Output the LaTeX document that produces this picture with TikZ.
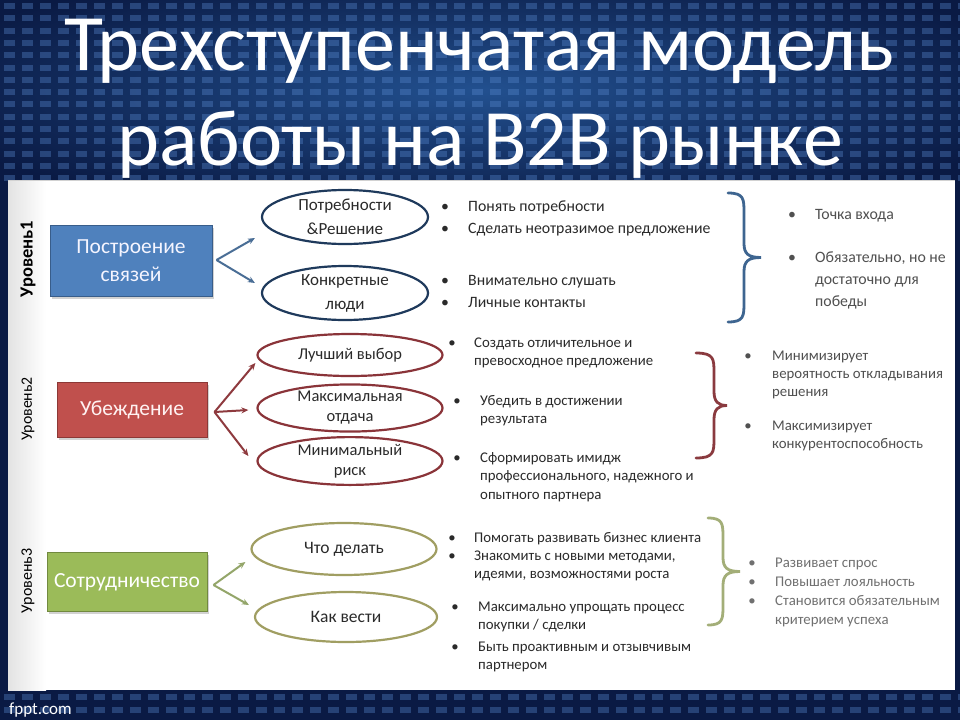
\documentclass[tikz,border=0pt]{standalone}
\usepackage{fontspec}
\setmainfont{Carlito}
\usetikzlibrary{arrows.meta,shapes.geometric,shadows,calc}
\definecolor{bgdark}{HTML}{0A1A44}
\definecolor{bgmid}{HTML}{22508F}
\definecolor{sqc}{HTML}{5A8AD0}
\definecolor{boxAc}{HTML}{4F81BD}\definecolor{boxAd}{HTML}{385D8A}
\definecolor{boxBc}{HTML}{C0504D}\definecolor{boxBd}{HTML}{8C3836}
\definecolor{boxCc}{HTML}{9BBB59}\definecolor{boxCd}{HTML}{71893F}
\definecolor{ellAc}{HTML}{1F3A5C}
\definecolor{ellBc}{HTML}{8A3439}
\definecolor{ellCc}{HTML}{A09E62}
\definecolor{arrAc}{HTML}{4A6E96}
\definecolor{arrBc}{HTML}{8E3A3E}
\definecolor{arrCc}{HTML}{94A66A}
\definecolor{brAc}{HTML}{3E6590}
\definecolor{brBc}{HTML}{8A3A3F}
\definecolor{brCc}{HTML}{A3AE78}
\definecolor{txtA}{HTML}{2A2A2A}
\definecolor{txtB}{HTML}{505050}
\definecolor{txtC}{HTML}{707070}
\newcommand\mytl[1]{\begin{tabular}[t]{@{}l@{}}#1\end{tabular}}
\newcommand\bitem[6]{%
  \node[#5,anchor=base] (#1d) at (#2,#4) {•};
  \node[#5,anchor=base west] (#1) at (#3,#4) {\mytl{#6}};}
\newcommand\mybrace[6]{% x0, ytop, ybot, xv, xt, colour
  \pgfmathsetmacro\ym{(#2+#3)/2}
  \draw[#6,line width=2.8pt,line cap=round]
   (#1,#2) .. controls (#4,#2) and (#4,#2+6) .. (#4,#2+20)
   -- (#4,\ym-14) .. controls (#4,\ym-4) and (#4+4,\ym) .. (#5,\ym)
   .. controls (#4+4,\ym) and (#4,\ym+4) .. (#4,\ym+14)
   -- (#4,#3-20) .. controls (#4,#3-6) and (#4,#3) .. (#1,#3);}
\begin{document}
\begin{tikzpicture}[x=1pt,y=-1pt,
  sq/.style={fill=sqc,opacity=0.36},
  title/.style={font=\fontsize{80}{80}\selectfont,text=white,anchor=base,inner sep=0},
  boxbase/.style={rectangle,inner sep=0,align=center,line width=1pt,
     font=\fontsize{21.5}{28}\selectfont,
     drop shadow={shadow xshift=2pt,shadow yshift=-2pt,opacity=0.35}},
  boxA/.style={boxbase,fill=boxAc,draw=boxAd,text=blue!4!white},
  boxB/.style={boxbase,fill=boxBc,draw=boxBd,text=red!5!white},
  boxC/.style={boxbase,fill=boxCc,draw=boxCd,text=white},
  ellbase/.style={ellipse,fill=white,inner sep=0,align=center,line width=2.2pt},
  ellA/.style={ellbase,draw=ellAc,text=txtA,font=\fontsize{17}{24}\selectfont},
  ellB/.style={ellbase,draw=ellBc,text=txtA,font=\fontsize{16.5}{20}\selectfont},
  ellC/.style={ellbase,draw=ellCc,text=txtA,font=\fontsize{17.5}{20}\selectfont},
  arrbase/.style={line width=2pt,-{Stealth[length=7pt,width=6pt]}},
  arrA/.style={arrbase,draw=arrAc},
  arrB/.style={arrbase,draw=arrBc},
  arrC/.style={arrbase,draw=arrCc},
  lvl/.style={rotate=90,inner sep=0,text=black},
  tA/.style={inner sep=0,text=txtA,font=\fontsize{15.8}{22}\selectfont},
  tAr/.style={inner sep=0,text=txtB,font=\fontsize{15.8}{22}\selectfont},
  tB/.style={inner sep=0,text=txtA,font=\fontsize{14.8}{18.5}\selectfont},
  tBr/.style={inner sep=0,text=txtB,font=\fontsize{14.8}{18}\selectfont},
  tC/.style={inner sep=0,text=txtA,font=\fontsize{14.8}{18.5}\selectfont},
  tCr/.style={inner sep=0,text=txtC,font=\fontsize{14.8}{19}\selectfont}]
\useasboundingbox (0,0) rectangle (960,720);
% background
\fill[bgdark] (0,0) rectangle (960,720);
\shade[inner color=bgmid,outer color=bgdark] (-100,-40) rectangle (1060,220);
\foreach \i in {0,...,53}{\foreach \j in {0,...,14}{\fill[sq] (\i*18+4,\j*12.3+3) rectangle ++(11,6);}}
\foreach \i in {0,...,53}{\foreach \j in {0,1}{\fill[sq] (\i*18+4,\j*13+694) rectangle ++(11,6);}}
% panel
\fill[white] (8,180) rectangle (955,690);
\shade[left color=gray!22,right color=white] (8,180) rectangle (46,690);
\draw[gray!35,line width=1pt] (8,180) -- (955,180);
% title
\node[title] (title1) at (479,70) {Трехступенчатая модель};
\node[title] (title2) at (480,165) {работы на B2B рынке};
\node[anchor=base west,inner sep=0,text=white,font=\fontsize{17}{17}\selectfont] (fppt) at (9,714) {fppt.com};
% ---------- level 1
\node[lvl,font=\bfseries\fontsize{18.5}{19}\selectfont] (L1) at (28,259) {Уровень1};
\node[boxA,minimum width=162pt,minimum height=71pt] (B1) at (131,261) {Построение\\связей};
\node[ellA,minimum width=166pt,minimum height=54pt] (E11) at (345,217) {Потребности\\\&Решение};
\node[ellA,minimum width=166pt,minimum height=54pt] (E12) at (345,293) {Конкретные\\люди};
\coordinate (S1) at ($(B1.east)+(4,-1)$);
\draw[arrA] (S1) -- ($(E11.west)+(-6,21)$);
\draw[arrA] (S1) -- ($(E12.west)+(-6,-10)$);
\bitem{i11}{445}{468}{211}{tA}{Понять потребности}
\bitem{i12}{445}{468}{233}{tA}{Сделать неотразимое предложение}
\bitem{i13}{445}{468}{285}{tA}{Внимательно слушать}
\bitem{i14}{445}{468}{307}{tA}{Личные контакты}
\mybrace{728}{193}{322}{744}{761}{brAc}
\bitem{r11}{792}{815}{219}{tAr}{Точка входа}
\bitem{r12}{792}{815}{262}{tAr}{Обязательно, но не\\достаточно для\\победы}
% ---------- level 2
\node[lvl,font=\fontsize{15.8}{16}\selectfont] (L2) at (28,409) {Уровень2};
\node[boxB,minimum width=150pt,minimum height=55pt] (B2) at (132,410) {Убеждение};
\node[ellB,minimum width=185pt,minimum height=42pt] (E21) at (350,355) {Лучший выбор};
\node[ellB,minimum width=185pt,minimum height=45pt] (E22) at (350,408) {Максимальная\\отдача};
\node[ellB,minimum width=185pt,minimum height=45pt] (E23) at (350,461) {Минимальный\\риск};
\coordinate (S2) at ($(B2.east)+(7,2)$);
\draw[arrB] (S2) -- ($(E21.west)+(-1,8)$);
\draw[arrB] (S2) -- ($(E22.west)+(-8,2)$);
\draw[arrB] (S2) -- ($(E23.west)+(-8,-5)$);
\bitem{i21}{452}{474}{347}{tB}{Создать отличительное и\\превосходное предложение}
\bitem{i22}{457}{480}{405}{tB}{Убедить в достижении\\результата}
\bitem{i23}{457}{480}{462}{tB}{Сформировать имидж\\профессионального, надежного и\\опытного партнера}
\mybrace{696}{353}{458}{714}{727}{brBc}
\bitem{r21}{748}{772}{360}{tBr}{Минимизирует\\вероятность откладывания\\решения}
\bitem{r22}{748}{772}{430}{tBr}{Максимизирует\\конкурентоспособность}
% ---------- level 3
\node[lvl,font=\fontsize{16}{16}\selectfont] (L3) at (28,581) {Уровень3};
\node[boxC,minimum width=160pt,minimum height=59pt] (B3) at (127,582) {Сотрудничество};
\node[ellC,minimum width=185pt,minimum height=52pt] (E31) at (344,549) {Что делать};
\node[ellC,minimum width=182pt,minimum height=50pt] (E32) at (346,617) {Как вести};
\coordinate (S3) at ($(B3.east)+(6,3)$);
\draw[arrC] (S3) -- ($(E31.west)+(-5,13)$);
\draw[arrC] (S3) -- ($(E32.west)+(-5,-12)$);
\bitem{i31}{452}{474}{542}{tC}{Помогать развивать бизнес клиента}
\bitem{i32}{452}{474}{560}{tC}{Знакомить с новыми методами,\\идеями, возможностями роста}
\bitem{i33}{455}{478}{611}{tC}{Максимально упрощать процесс\\покупки / сделки}
\bitem{i34}{455}{478}{651}{tC}{Быть проактивным и отзывчивым\\партнером}
\mybrace{708}{518}{625}{723}{740}{brCc}
\bitem{r31}{752}{775}{567}{tCr}{Развивает спрос}
\bitem{r32}{752}{775}{586}{tCr}{Повышает лояльность}
\bitem{r33}{752}{775}{605}{tCr}{Становится обязательным\\критерием успеха}
\end{tikzpicture}
\end{document}
